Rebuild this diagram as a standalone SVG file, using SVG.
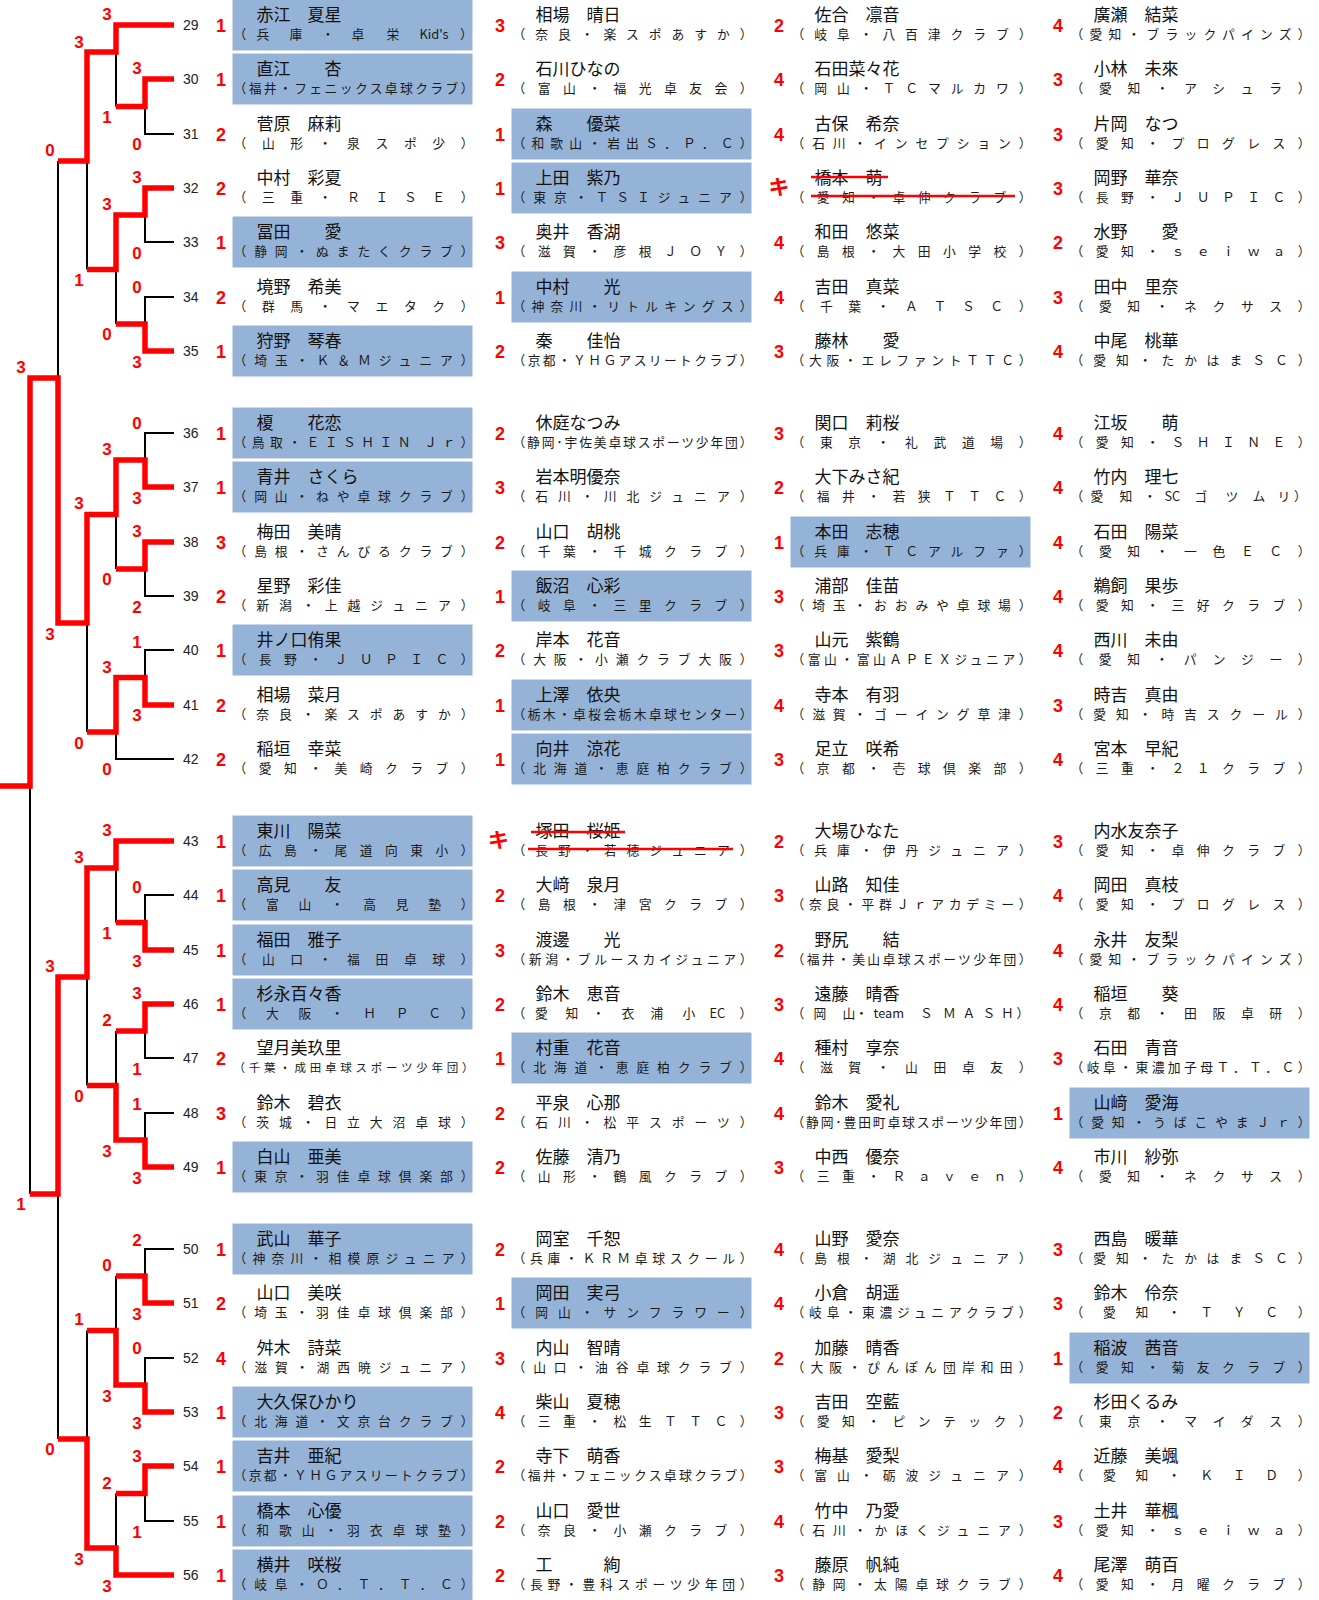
<svg xmlns="http://www.w3.org/2000/svg" width="1319" height="1600" viewBox="0 0 1319 1600">
<style>
.bx{fill:#95B3D7}
.nm{font-family:'Noto Sans CJK JP',sans-serif;font-size:17px;fill:#111}
.cl{font-family:'Noto Sans CJK JP',sans-serif;font-size:12.8px;fill:#1a1a1a}
.sc{font-family:'Liberation Sans',Arial,sans-serif;font-weight:bold;font-size:18px;fill:#f00;text-anchor:middle}
.ki{font-family:'Noto Sans CJK JP',sans-serif;font-weight:bold;font-size:21px;fill:#f00;text-anchor:middle}
.no{font-family:'Liberation Sans',Arial,sans-serif;font-size:14px;fill:#222}
.lb{font-family:'Liberation Sans',Arial,sans-serif;font-weight:bold;font-size:17px;fill:#f00;text-anchor:middle}
.rd{fill:none;stroke:#f00;stroke-width:5.5;stroke-linejoin:miter}
.bk{fill:none;stroke:#000;stroke-width:2}
.st{stroke:#f00;stroke-width:2.5}
</style>
<rect width="1319" height="1600" fill="#fff"/>
<g id="connectors">
<path class="bk" d="M174,134H145V106.5 M116,52V106.5 M174,242H145V215 M174,297H145V324 M116,269.5V324 M87,161V269.5 M58,161V378 M174,433H145V460 M174,596H145V569 M116,514.5V569 M174,650H145V677.5 M174,759H116V732 M87,623V732 M30,786V1194 M174,895H145V922.5 M116,868V922.5 M174,1058H145V1031 M116,1031V1085.5 M174,1113H145V1140 M87,977V1085.5 M58,1194V1439 M174,1249H145V1276 M116,1276V1330.5 M174,1358H145V1385 M174,1521H145V1493.5 M116,1493.5V1548 M87,1330.5V1439"/>
<path class="rd" d="M174,25H116V52H87V161H58"/>
<path class="rd" d="M174,79H145V106.5H116"/>
<path class="rd" d="M174,188H145V215H116V269.5H87"/>
<path class="rd" d="M174,351H145V324H116"/>
<path class="rd" d="M174,487H145V460H116V514.5H87V623H58V378H30V786H0"/>
<path class="rd" d="M174,542H145V569H116"/>
<path class="rd" d="M174,705H145V677.5H116V732H87"/>
<path class="rd" d="M174,841H116V868H87V977H58V1194H30"/>
<path class="rd" d="M174,950H145V922.5H116"/>
<path class="rd" d="M174,1004H145V1031H116"/>
<path class="rd" d="M174,1167H145V1140H116V1085.5H87"/>
<path class="rd" d="M174,1303H145V1276H116"/>
<path class="rd" d="M174,1412H145V1385H116V1330.5H87"/>
<path class="rd" d="M174,1466H145V1493.5H116"/>
<path class="rd" d="M174,1575H116V1548H87V1439H58"/>
</g>
<g id="match-scores">
<text class="lb" x="107" y="20">3</text><text class="lb" x="79" y="48">3</text><text class="lb" x="137" y="74">3</text><text class="lb" x="107" y="123">1</text><text class="lb" x="137" y="150">0</text><text class="lb" x="50" y="156">0</text><text class="lb" x="137" y="183">3</text><text class="lb" x="107" y="210">3</text><text class="lb" x="137" y="259">0</text><text class="lb" x="79" y="286">1</text><text class="lb" x="137" y="293">0</text><text class="lb" x="107" y="340">0</text><text class="lb" x="137" y="368">3</text><text class="lb" x="21" y="373">3</text>
<text class="lb" x="137" y="429">0</text><text class="lb" x="107" y="455">3</text><text class="lb" x="137" y="504">3</text><text class="lb" x="79" y="509">3</text><text class="lb" x="137" y="537">3</text><text class="lb" x="107" y="585">0</text><text class="lb" x="137" y="613">2</text><text class="lb" x="50" y="640">3</text><text class="lb" x="137" y="648">1</text><text class="lb" x="107" y="673">3</text><text class="lb" x="137" y="721">3</text><text class="lb" x="79" y="749">0</text><text class="lb" x="107" y="775">0</text>
<text class="lb" x="107" y="836">3</text><text class="lb" x="79" y="863">3</text><text class="lb" x="137" y="893">0</text><text class="lb" x="107" y="939">1</text><text class="lb" x="137" y="967">3</text><text class="lb" x="50" y="972">3</text><text class="lb" x="137" y="999">3</text><text class="lb" x="107" y="1026">2</text><text class="lb" x="137" y="1075">1</text><text class="lb" x="79" y="1102">0</text><text class="lb" x="137" y="1110">1</text><text class="lb" x="107" y="1157">3</text><text class="lb" x="137" y="1184">3</text>
<text class="lb" x="21" y="1210">1</text><text class="lb" x="137" y="1246">2</text><text class="lb" x="107" y="1271">0</text><text class="lb" x="137" y="1320">3</text><text class="lb" x="79" y="1325">1</text><text class="lb" x="137" y="1354">0</text><text class="lb" x="107" y="1402">3</text><text class="lb" x="137" y="1429">3</text><text class="lb" x="50" y="1455">0</text><text class="lb" x="137" y="1462">3</text><text class="lb" x="107" y="1489">2</text><text class="lb" x="137" y="1538">1</text><text class="lb" x="79" y="1565">3</text><text class="lb" x="107" y="1592">3</text>
</g>

<g id="e29" transform="translate(0,25)"><text class="no" x="183" y="5">29</text>
<g id="e29-1" transform="translate(232.5,0)"><rect class="bx" x="0" y="-25.5" width="240" height="51"/><text class="sc" x="-11.5" y="6.5">1</text><text class="nm" x="24" y="-4.5">赤江　夏星</text><text class="cl" y="14"><tspan x="1 24 57 89 119 154 187">（兵庫・卓栄Kid's</tspan><tspan x="227.5">）</tspan></text></g>
<g id="e29-2" transform="translate(511.5,0)"><text class="sc" x="-11.5" y="6.5">3</text><text class="nm" x="24" y="-4.5">相場　晴日</text><text class="cl" x="1" y="14" textLength="240">（奈良・楽スポあすか）</text></g>
<g id="e29-3" transform="translate(790.5,0)"><text class="sc" x="-11.5" y="6.5">2</text><text class="nm" x="24" y="-4.5">佐合　凛音</text><text class="cl" x="1" y="14" textLength="240">（岐阜・八百津クラブ）</text></g>
<g id="e29-4" transform="translate(1069.5,0)"><text class="sc" x="-11.5" y="6.5">4</text><text class="nm" x="24" y="-4.5">廣瀬　結菜</text><text class="cl" x="1" y="14" textLength="240">（愛知・ブラックパインズ）</text></g>
</g>

<g id="e30" transform="translate(0,79)"><text class="no" x="183" y="5">30</text>
<g id="e30-1" transform="translate(232.5,0)"><rect class="bx" x="0" y="-25.5" width="240" height="51"/><text class="sc" x="-11.5" y="6.5">1</text><text class="nm" x="24" y="-4.5">直江　　杏</text><text class="cl" x="1" y="14" textLength="240">（福井・フェニックス卓球クラブ）</text></g>
<g id="e30-2" transform="translate(511.5,0)"><text class="sc" x="-11.5" y="6.5">2</text><text class="nm" x="24" y="-4.5">石川ひなの</text><text class="cl" x="1" y="14" textLength="240">（富山・福光卓友会）</text></g>
<g id="e30-3" transform="translate(790.5,0)"><text class="sc" x="-11.5" y="6.5">4</text><text class="nm" x="24" y="-4.5">石田菜々花</text><text class="cl" x="1" y="14" textLength="240">（岡山・ＴＣマルカワ）</text></g>
<g id="e30-4" transform="translate(1069.5,0)"><text class="sc" x="-11.5" y="6.5">3</text><text class="nm" x="24" y="-4.5">小林　未來</text><text class="cl" x="1" y="14" textLength="240">（愛知・アシュラ）</text></g>
</g>

<g id="e31" transform="translate(0,134)"><text class="no" x="183" y="5">31</text>
<g id="e31-1" transform="translate(232.5,0)"><text class="sc" x="-11.5" y="6.5">2</text><text class="nm" x="24" y="-4.5">菅原　麻莉</text><text class="cl" x="1" y="14" textLength="240">（山形・泉スポ少）</text></g>
<g id="e31-2" transform="translate(511.5,0)"><rect class="bx" x="0" y="-25.5" width="240" height="51"/><text class="sc" x="-11.5" y="6.5">1</text><text class="nm" x="24" y="-4.5">森　　優菜</text><text class="cl" x="1" y="14" textLength="240">（和歌山・岩出Ｓ．Ｐ．Ｃ）</text></g>
<g id="e31-3" transform="translate(790.5,0)"><text class="sc" x="-11.5" y="6.5">4</text><text class="nm" x="24" y="-4.5">古保　希奈</text><text class="cl" x="1" y="14" textLength="240">（石川・インセプション）</text></g>
<g id="e31-4" transform="translate(1069.5,0)"><text class="sc" x="-11.5" y="6.5">3</text><text class="nm" x="24" y="-4.5">片岡　なつ</text><text class="cl" x="1" y="14" textLength="240">（愛知・プログレス）</text></g>
</g>

<g id="e32" transform="translate(0,188)"><text class="no" x="183" y="5">32</text>
<g id="e32-1" transform="translate(232.5,0)"><text class="sc" x="-11.5" y="6.5">2</text><text class="nm" x="24" y="-4.5">中村　彩夏</text><text class="cl" x="1" y="14" textLength="240">（三重・ＲＩＳＥ）</text></g>
<g id="e32-2" transform="translate(511.5,0)"><rect class="bx" x="0" y="-25.5" width="240" height="51"/><text class="sc" x="-11.5" y="6.5">1</text><text class="nm" x="24" y="-4.5">上田　紫乃</text><text class="cl" x="1" y="14" textLength="240">（東京・ＴＳＩジュニア）</text></g>
<g id="e32-3" transform="translate(790.5,0)"><text class="ki" x="-11.5" y="6">キ</text><text class="nm" x="24" y="-4.5">橋本　萌</text><text class="cl" x="1" y="14" textLength="240">（愛知・卓伸クラブ）</text><line class="st" x1="20.5" y1="-11" x2="97.5" y2="-11"/><line class="st" x1="20.5" y1="8" x2="224.5" y2="8"/></g>
<g id="e32-4" transform="translate(1069.5,0)"><text class="sc" x="-11.5" y="6.5">3</text><text class="nm" x="24" y="-4.5">岡野　華奈</text><text class="cl" x="1" y="14" textLength="240">（長野・ＪＵＰＩＣ）</text></g>
</g>

<g id="e33" transform="translate(0,242)"><text class="no" x="183" y="5">33</text>
<g id="e33-1" transform="translate(232.5,0)"><rect class="bx" x="0" y="-25.5" width="240" height="51"/><text class="sc" x="-11.5" y="6.5">1</text><text class="nm" x="24" y="-4.5">冨田　　愛</text><text class="cl" x="1" y="14" textLength="240">（静岡・ぬまたくクラブ）</text></g>
<g id="e33-2" transform="translate(511.5,0)"><text class="sc" x="-11.5" y="6.5">3</text><text class="nm" x="24" y="-4.5">奥井　香湖</text><text class="cl" x="1" y="14" textLength="240">（滋賀・彦根ＪＯＹ）</text></g>
<g id="e33-3" transform="translate(790.5,0)"><text class="sc" x="-11.5" y="6.5">4</text><text class="nm" x="24" y="-4.5">和田　悠菜</text><text class="cl" x="1" y="14" textLength="240">（島根・大田小学校）</text></g>
<g id="e33-4" transform="translate(1069.5,0)"><text class="sc" x="-11.5" y="6.5">2</text><text class="nm" x="24" y="-4.5">水野　　愛</text><text class="cl" x="1" y="14" textLength="240">（愛知・ｓｅｉｗａ）</text></g>
</g>

<g id="e34" transform="translate(0,297)"><text class="no" x="183" y="5">34</text>
<g id="e34-1" transform="translate(232.5,0)"><text class="sc" x="-11.5" y="6.5">2</text><text class="nm" x="24" y="-4.5">境野　希美</text><text class="cl" x="1" y="14" textLength="240">（群馬・マエタク）</text></g>
<g id="e34-2" transform="translate(511.5,0)"><rect class="bx" x="0" y="-25.5" width="240" height="51"/><text class="sc" x="-11.5" y="6.5">1</text><text class="nm" x="24" y="-4.5">中村　　光</text><text class="cl" x="1" y="14" textLength="240">（神奈川・リトルキングス）</text></g>
<g id="e34-3" transform="translate(790.5,0)"><text class="sc" x="-11.5" y="6.5">4</text><text class="nm" x="24" y="-4.5">吉田　真菜</text><text class="cl" x="1" y="14" textLength="240">（千葉・ＡＴＳＣ）</text></g>
<g id="e34-4" transform="translate(1069.5,0)"><text class="sc" x="-11.5" y="6.5">3</text><text class="nm" x="24" y="-4.5">田中　里奈</text><text class="cl" x="1" y="14" textLength="240">（愛知・ネクサス）</text></g>
</g>

<g id="e35" transform="translate(0,351)"><text class="no" x="183" y="5">35</text>
<g id="e35-1" transform="translate(232.5,0)"><rect class="bx" x="0" y="-25.5" width="240" height="51"/><text class="sc" x="-11.5" y="6.5">1</text><text class="nm" x="24" y="-4.5">狩野　琴春</text><text class="cl" x="1" y="14" textLength="240">（埼玉・Ｋ＆Ｍジュニア）</text></g>
<g id="e35-2" transform="translate(511.5,0)"><text class="sc" x="-11.5" y="6.5">2</text><text class="nm" x="24" y="-4.5">秦　　佳怡</text><text class="cl" x="1" y="14" textLength="240">（京都・ＹＨＧアスリートクラブ）</text></g>
<g id="e35-3" transform="translate(790.5,0)"><text class="sc" x="-11.5" y="6.5">3</text><text class="nm" x="24" y="-4.5">藤林　　愛</text><text class="cl" x="1" y="14" textLength="240">（大阪・エレファントＴＴＣ）</text></g>
<g id="e35-4" transform="translate(1069.5,0)"><text class="sc" x="-11.5" y="6.5">4</text><text class="nm" x="24" y="-4.5">中尾　桃華</text><text class="cl" x="1" y="14" textLength="240">（愛知・たかはまＳＣ）</text></g>
</g>

<g id="e36" transform="translate(0,433)"><text class="no" x="183" y="5">36</text>
<g id="e36-1" transform="translate(232.5,0)"><rect class="bx" x="0" y="-25.5" width="240" height="51"/><text class="sc" x="-11.5" y="6.5">1</text><text class="nm" x="24" y="-4.5">榎　　花恋</text><text class="cl" x="1" y="14" textLength="240">（鳥取・ＥＩＳＨＩＮ Ｊｒ）</text></g>
<g id="e36-2" transform="translate(511.5,0)"><text class="sc" x="-11.5" y="6.5">2</text><text class="nm" x="24" y="-4.5">休庭なつみ</text><text class="cl" x="1" y="14" textLength="240">（静岡･宇佐美卓球スポーツ少年団）</text></g>
<g id="e36-3" transform="translate(790.5,0)"><text class="sc" x="-11.5" y="6.5">3</text><text class="nm" x="24" y="-4.5">関口　莉桜</text><text class="cl" x="1" y="14" textLength="240">（東京・礼武道場）</text></g>
<g id="e36-4" transform="translate(1069.5,0)"><text class="sc" x="-11.5" y="6.5">4</text><text class="nm" x="24" y="-4.5">江坂　　萌</text><text class="cl" x="1" y="14" textLength="240">（愛知・ＳＨＩＮＥ）</text></g>
</g>

<g id="e37" transform="translate(0,487)"><text class="no" x="183" y="5">37</text>
<g id="e37-1" transform="translate(232.5,0)"><rect class="bx" x="0" y="-25.5" width="240" height="51"/><text class="sc" x="-11.5" y="6.5">1</text><text class="nm" x="24" y="-4.5">青井　さくら</text><text class="cl" x="1" y="14" textLength="240">（岡山・ねや卓球クラブ）</text></g>
<g id="e37-2" transform="translate(511.5,0)"><text class="sc" x="-11.5" y="6.5">3</text><text class="nm" x="24" y="-4.5">岩本明優奈</text><text class="cl" x="1" y="14" textLength="240">（石川・川北ジュニア）</text></g>
<g id="e37-3" transform="translate(790.5,0)"><text class="sc" x="-11.5" y="6.5">2</text><text class="nm" x="24" y="-4.5">大下みさ紀</text><text class="cl" x="1" y="14" textLength="240">（福井・若狭ＴＴＣ）</text></g>
<g id="e37-4" transform="translate(1069.5,0)"><text class="sc" x="-11.5" y="6.5">4</text><text class="nm" x="24" y="-4.5">竹内　理七</text><text class="cl" y="14" x="1 21 50 74 95 102.5 125 156 183 208 224.5">（愛知・SCゴツムリ）</text></g>
</g>

<g id="e38" transform="translate(0,542)"><text class="no" x="183" y="5">38</text>
<g id="e38-1" transform="translate(232.5,0)"><text class="sc" x="-11.5" y="6.5">3</text><text class="nm" x="24" y="-4.5">梅田　美晴</text><text class="cl" x="1" y="14" textLength="240">（島根・さんびるクラブ）</text></g>
<g id="e38-2" transform="translate(511.5,0)"><text class="sc" x="-11.5" y="6.5">2</text><text class="nm" x="24" y="-4.5">山口　胡桃</text><text class="cl" x="1" y="14" textLength="240">（千葉・千城クラブ）</text></g>
<g id="e38-3" transform="translate(790.5,0)"><rect class="bx" x="0" y="-25.5" width="240" height="51"/><text class="sc" x="-11.5" y="6.5">1</text><text class="nm" x="24" y="-4.5">本田　志穂</text><text class="cl" x="1" y="14" textLength="240">（兵庫・ＴＣアルファ）</text></g>
<g id="e38-4" transform="translate(1069.5,0)"><text class="sc" x="-11.5" y="6.5">4</text><text class="nm" x="24" y="-4.5">石田　陽菜</text><text class="cl" x="1" y="14" textLength="240">（愛知・一色ＥＣ）</text></g>
</g>

<g id="e39" transform="translate(0,596)"><text class="no" x="183" y="5">39</text>
<g id="e39-1" transform="translate(232.5,0)"><text class="sc" x="-11.5" y="6.5">2</text><text class="nm" x="24" y="-4.5">星野　彩佳</text><text class="cl" x="1" y="14" textLength="240">（新潟・上越ジュニア）</text></g>
<g id="e39-2" transform="translate(511.5,0)"><rect class="bx" x="0" y="-25.5" width="240" height="51"/><text class="sc" x="-11.5" y="6.5">1</text><text class="nm" x="24" y="-4.5">飯沼　心彩</text><text class="cl" x="1" y="14" textLength="240">（岐阜・三里クラブ）</text></g>
<g id="e39-3" transform="translate(790.5,0)"><text class="sc" x="-11.5" y="6.5">3</text><text class="nm" x="24" y="-4.5">浦部　佳苗</text><text class="cl" x="1" y="14" textLength="240">（埼玉・おおみや卓球場）</text></g>
<g id="e39-4" transform="translate(1069.5,0)"><text class="sc" x="-11.5" y="6.5">4</text><text class="nm" x="24" y="-4.5">鵜飼　果歩</text><text class="cl" x="1" y="14" textLength="240">（愛知・三好クラブ）</text></g>
</g>

<g id="e40" transform="translate(0,650)"><text class="no" x="183" y="5">40</text>
<g id="e40-1" transform="translate(232.5,0)"><rect class="bx" x="0" y="-25.5" width="240" height="51"/><text class="sc" x="-11.5" y="6.5">1</text><text class="nm" x="24" y="-4.5">井ノ口侑果</text><text class="cl" x="1" y="14" textLength="240">（長野・ＪＵＰＩＣ）</text></g>
<g id="e40-2" transform="translate(511.5,0)"><text class="sc" x="-11.5" y="6.5">2</text><text class="nm" x="24" y="-4.5">岸本　花音</text><text class="cl" x="1" y="14" textLength="240">（大阪・小瀬クラブ大阪）</text></g>
<g id="e40-3" transform="translate(790.5,0)"><text class="sc" x="-11.5" y="6.5">3</text><text class="nm" x="24" y="-4.5">山元　紫鶴</text><text class="cl" x="1" y="14" textLength="240">（富山・富山ＡＰＥＸジュニア）</text></g>
<g id="e40-4" transform="translate(1069.5,0)"><text class="sc" x="-11.5" y="6.5">4</text><text class="nm" x="24" y="-4.5">西川　未由</text><text class="cl" x="1" y="14" textLength="240">（愛知・パンジー）</text></g>
</g>

<g id="e41" transform="translate(0,705)"><text class="no" x="183" y="5">41</text>
<g id="e41-1" transform="translate(232.5,0)"><text class="sc" x="-11.5" y="6.5">2</text><text class="nm" x="24" y="-4.5">相場　菜月</text><text class="cl" x="1" y="14" textLength="240">（奈良・楽スポあすか）</text></g>
<g id="e41-2" transform="translate(511.5,0)"><rect class="bx" x="0" y="-25.5" width="240" height="51"/><text class="sc" x="-11.5" y="6.5">1</text><text class="nm" x="24" y="-4.5">上澤　依央</text><text class="cl" x="1" y="14" textLength="240">（栃木・卓桜会栃木卓球センター）</text></g>
<g id="e41-3" transform="translate(790.5,0)"><text class="sc" x="-11.5" y="6.5">4</text><text class="nm" x="24" y="-4.5">寺本　有羽</text><text class="cl" x="1" y="14" textLength="240">（滋賀・ゴーイング草津）</text></g>
<g id="e41-4" transform="translate(1069.5,0)"><text class="sc" x="-11.5" y="6.5">3</text><text class="nm" x="24" y="-4.5">時吉　真由</text><text class="cl" x="1" y="14" textLength="240">（愛知・時吉スクール）</text></g>
</g>

<g id="e42" transform="translate(0,759)"><text class="no" x="183" y="5">42</text>
<g id="e42-1" transform="translate(232.5,0)"><text class="sc" x="-11.5" y="6.5">2</text><text class="nm" x="24" y="-4.5">稲垣　幸菜</text><text class="cl" x="1" y="14" textLength="240">（愛知・美崎クラブ）</text></g>
<g id="e42-2" transform="translate(511.5,0)"><rect class="bx" x="0" y="-25.5" width="240" height="51"/><text class="sc" x="-11.5" y="6.5">1</text><text class="nm" x="24" y="-4.5">向井　涼花</text><text class="cl" x="1" y="14" textLength="240">（北海道・恵庭柏クラブ）</text></g>
<g id="e42-3" transform="translate(790.5,0)"><text class="sc" x="-11.5" y="6.5">3</text><text class="nm" x="24" y="-4.5">足立　咲希</text><text class="cl" x="1" y="14" textLength="240">（京都・壱球倶楽部）</text></g>
<g id="e42-4" transform="translate(1069.5,0)"><text class="sc" x="-11.5" y="6.5">4</text><text class="nm" x="24" y="-4.5">宮本　早紀</text><text class="cl" x="1" y="14" textLength="240">（三重・２１クラブ）</text></g>
</g>

<g id="e43" transform="translate(0,841)"><text class="no" x="183" y="5">43</text>
<g id="e43-1" transform="translate(232.5,0)"><rect class="bx" x="0" y="-25.5" width="240" height="51"/><text class="sc" x="-11.5" y="6.5">1</text><text class="nm" x="24" y="-4.5">東川　陽菜</text><text class="cl" x="1" y="14" textLength="240">（広島・尾道向東小）</text></g>
<g id="e43-2" transform="translate(511.5,0)"><text class="ki" x="-13" y="6">キ</text><text class="nm" x="24" y="-4.5">塚田　桜姫</text><text class="cl" x="1" y="14" textLength="240">（長野・若穂ジュニア）</text><line class="st" x1="19.5" y1="-9" x2="113.5" y2="-9"/><line class="st" x1="16.5" y1="8" x2="221.5" y2="8"/></g>
<g id="e43-3" transform="translate(790.5,0)"><text class="sc" x="-11.5" y="6.5">2</text><text class="nm" x="24" y="-4.5">大場ひなた</text><text class="cl" x="1" y="14" textLength="240">（兵庫・伊丹ジュニア）</text></g>
<g id="e43-4" transform="translate(1069.5,0)"><text class="sc" x="-11.5" y="6.5">3</text><text class="nm" x="24" y="-4.5">内水友奈子</text><text class="cl" x="1" y="14" textLength="240">（愛知・卓伸クラブ）</text></g>
</g>

<g id="e44" transform="translate(0,895)"><text class="no" x="183" y="5">44</text>
<g id="e44-1" transform="translate(232.5,0)"><rect class="bx" x="0" y="-25.5" width="240" height="51"/><text class="sc" x="-11.5" y="6.5">1</text><text class="nm" x="24" y="-4.5">高見　　友</text><text class="cl" x="1" y="14" textLength="240">（富山・高見塾）</text></g>
<g id="e44-2" transform="translate(511.5,0)"><text class="sc" x="-11.5" y="6.5">2</text><text class="nm" x="24" y="-4.5">大﨑　泉月</text><text class="cl" x="1" y="14" textLength="240">（島根・津宮クラブ）</text></g>
<g id="e44-3" transform="translate(790.5,0)"><text class="sc" x="-11.5" y="6.5">3</text><text class="nm" x="24" y="-4.5">山路　知佳</text><text class="cl" x="1" y="14" textLength="240">（奈良・平群Ｊｒアカデミー）</text></g>
<g id="e44-4" transform="translate(1069.5,0)"><text class="sc" x="-11.5" y="6.5">4</text><text class="nm" x="24" y="-4.5">岡田　真枝</text><text class="cl" x="1" y="14" textLength="240">（愛知・プログレス）</text></g>
</g>

<g id="e45" transform="translate(0,950)"><text class="no" x="183" y="5">45</text>
<g id="e45-1" transform="translate(232.5,0)"><rect class="bx" x="0" y="-25.5" width="240" height="51"/><text class="sc" x="-11.5" y="6.5">1</text><text class="nm" x="24" y="-4.5">福田　雅子</text><text class="cl" x="1" y="14" textLength="240">（山口・福田卓球）</text></g>
<g id="e45-2" transform="translate(511.5,0)"><text class="sc" x="-11.5" y="6.5">3</text><text class="nm" x="24" y="-4.5">渡邊　　光</text><text class="cl" x="1" y="14" textLength="240">（新潟・ブルースカイジュニア）</text></g>
<g id="e45-3" transform="translate(790.5,0)"><text class="sc" x="-11.5" y="6.5">2</text><text class="nm" x="24" y="-4.5">野尻　　結</text><text class="cl" x="1" y="14" textLength="240">（福井・美山卓球スポーツ少年団）</text></g>
<g id="e45-4" transform="translate(1069.5,0)"><text class="sc" x="-11.5" y="6.5">4</text><text class="nm" x="24" y="-4.5">永井　友梨</text><text class="cl" x="1" y="14" textLength="240">（愛知・ブラックパインズ）</text></g>
</g>

<g id="e46" transform="translate(0,1004)"><text class="no" x="183" y="5">46</text>
<g id="e46-1" transform="translate(232.5,0)"><rect class="bx" x="0" y="-25.5" width="240" height="51"/><text class="sc" x="-11.5" y="6.5">1</text><text class="nm" x="24" y="-4.5">杉永百々香</text><text class="cl" x="1" y="14" textLength="240">（大阪・ＨＰＣ）</text></g>
<g id="e46-2" transform="translate(511.5,0)"><text class="sc" x="-11.5" y="6.5">2</text><text class="nm" x="24" y="-4.5">鈴木　恵音</text><text class="cl" y="14" x="1 23.5 54 80.5 110 139 171 198 205.5 228">（愛知・衣浦小EC）</text></g>
<g id="e46-3" transform="translate(790.5,0)"><text class="sc" x="-11.5" y="6.5">3</text><text class="nm" x="24" y="-4.5">遠藤　晴香</text><text class="cl" y="14"><tspan x="1 23 52 64.5 83">（岡山・team</tspan><tspan x="129.5 152.5 172 192 210.5 226">ＳＭＡＳＨ）</tspan></text></g>
<g id="e46-4" transform="translate(1069.5,0)"><text class="sc" x="-11.5" y="6.5">4</text><text class="nm" x="24" y="-4.5">稲垣　　葵</text><text class="cl" x="1" y="14" textLength="240">（京都・田阪卓研）</text></g>
</g>

<g id="e47" transform="translate(0,1058)"><text class="no" x="183" y="5">47</text>
<g id="e47-1" transform="translate(232.5,0)"><text class="sc" x="-11.5" y="6.5">2</text><text class="nm" x="24" y="-4.5">望月美玖里</text><text class="cl" x="1" y="14" textLength="240" style="font-size:11.5px">（千葉・成田卓球スポーツ少年団）</text></g>
<g id="e47-2" transform="translate(511.5,0)"><rect class="bx" x="0" y="-25.5" width="240" height="51"/><text class="sc" x="-11.5" y="6.5">1</text><text class="nm" x="24" y="-4.5">村重　花音</text><text class="cl" x="1" y="14" textLength="240">（北海道・恵庭柏クラブ）</text></g>
<g id="e47-3" transform="translate(790.5,0)"><text class="sc" x="-11.5" y="6.5">4</text><text class="nm" x="24" y="-4.5">種村　享奈</text><text class="cl" x="1" y="14" textLength="240">（滋賀・山田卓友）</text></g>
<g id="e47-4" transform="translate(1069.5,0)"><text class="sc" x="-11.5" y="6.5">3</text><text class="nm" x="24" y="-4.5">石田　青音</text><text class="cl" x="1" y="14" textLength="240">（岐阜・東濃加子母Ｔ．Ｔ．Ｃ）</text></g>
</g>

<g id="e48" transform="translate(0,1113)"><text class="no" x="183" y="5">48</text>
<g id="e48-1" transform="translate(232.5,0)"><text class="sc" x="-11.5" y="6.5">3</text><text class="nm" x="24" y="-4.5">鈴木　碧衣</text><text class="cl" x="1" y="14" textLength="240">（茨城・日立大沼卓球）</text></g>
<g id="e48-2" transform="translate(511.5,0)"><text class="sc" x="-11.5" y="6.5">2</text><text class="nm" x="24" y="-4.5">平泉　心那</text><text class="cl" x="1" y="14" textLength="240">（石川・松平スポーツ）</text></g>
<g id="e48-3" transform="translate(790.5,0)"><text class="sc" x="-11.5" y="6.5">4</text><text class="nm" x="24" y="-4.5">鈴木　愛礼</text><text class="cl" x="1" y="14" textLength="240">（静岡･豊田町卓球スポーツ少年団）</text></g>
<g id="e48-4" transform="translate(1069.5,0)"><rect class="bx" x="0" y="-25.5" width="240" height="51"/><text class="sc" x="-11.5" y="6.5">1</text><text class="nm" x="24" y="-4.5">山﨑　愛海</text><text class="cl" x="1" y="14" textLength="240">（愛知・うばこやまＪｒ）</text></g>
</g>

<g id="e49" transform="translate(0,1167)"><text class="no" x="183" y="5">49</text>
<g id="e49-1" transform="translate(232.5,0)"><rect class="bx" x="0" y="-25.5" width="240" height="51"/><text class="sc" x="-11.5" y="6.5">1</text><text class="nm" x="24" y="-4.5">白山　亜美</text><text class="cl" x="1" y="14" textLength="240">（東京・羽佳卓球倶楽部）</text></g>
<g id="e49-2" transform="translate(511.5,0)"><text class="sc" x="-11.5" y="6.5">2</text><text class="nm" x="24" y="-4.5">佐藤　清乃</text><text class="cl" x="1" y="14" textLength="240">（山形・鶴風クラブ）</text></g>
<g id="e49-3" transform="translate(790.5,0)"><text class="sc" x="-11.5" y="6.5">3</text><text class="nm" x="24" y="-4.5">中西　優奈</text><text class="cl" x="1" y="14" textLength="240">（三重・Ｒａｖｅｎ）</text></g>
<g id="e49-4" transform="translate(1069.5,0)"><text class="sc" x="-11.5" y="6.5">4</text><text class="nm" x="24" y="-4.5">市川　紗弥</text><text class="cl" x="1" y="14" textLength="240">（愛知・ネクサス）</text></g>
</g>

<g id="e50" transform="translate(0,1249)"><text class="no" x="183" y="5">50</text>
<g id="e50-1" transform="translate(232.5,0)"><rect class="bx" x="0" y="-25.5" width="240" height="51"/><text class="sc" x="-11.5" y="6.5">1</text><text class="nm" x="24" y="-4.5">武山　華子</text><text class="cl" x="1" y="14" textLength="240">（神奈川・相模原ジュニア）</text></g>
<g id="e50-2" transform="translate(511.5,0)"><text class="sc" x="-11.5" y="6.5">2</text><text class="nm" x="24" y="-4.5">岡室　千恕</text><text class="cl" x="1" y="14" textLength="240">（兵庫・ＫＲＭ卓球スクール）</text></g>
<g id="e50-3" transform="translate(790.5,0)"><text class="sc" x="-11.5" y="6.5">4</text><text class="nm" x="24" y="-4.5">山野　愛奈</text><text class="cl" x="1" y="14" textLength="240">（島根・湖北ジュニア）</text></g>
<g id="e50-4" transform="translate(1069.5,0)"><text class="sc" x="-11.5" y="6.5">3</text><text class="nm" x="24" y="-4.5">西島　暖華</text><text class="cl" x="1" y="14" textLength="240">（愛知・たかはまＳＣ）</text></g>
</g>

<g id="e51" transform="translate(0,1303)"><text class="no" x="183" y="5">51</text>
<g id="e51-1" transform="translate(232.5,0)"><text class="sc" x="-11.5" y="6.5">2</text><text class="nm" x="24" y="-4.5">山口　美咲</text><text class="cl" x="1" y="14" textLength="240">（埼玉・羽佳卓球倶楽部）</text></g>
<g id="e51-2" transform="translate(511.5,0)"><rect class="bx" x="0" y="-25.5" width="240" height="51"/><text class="sc" x="-11.5" y="6.5">1</text><text class="nm" x="24" y="-4.5">岡田　実弓</text><text class="cl" x="1" y="14" textLength="240">（岡山・サンフラワー）</text></g>
<g id="e51-3" transform="translate(790.5,0)"><text class="sc" x="-11.5" y="6.5">4</text><text class="nm" x="24" y="-4.5">小倉　胡遥</text><text class="cl" x="1" y="14" textLength="240">（岐阜・東濃ジュニアクラブ）</text></g>
<g id="e51-4" transform="translate(1069.5,0)"><text class="sc" x="-11.5" y="6.5">3</text><text class="nm" x="24" y="-4.5">鈴木　伶奈</text><text class="cl" x="1" y="14" textLength="240">（愛知・ＴＹＣ）</text></g>
</g>

<g id="e52" transform="translate(0,1358)"><text class="no" x="183" y="5">52</text>
<g id="e52-1" transform="translate(232.5,0)"><text class="sc" x="-11.5" y="6.5">4</text><text class="nm" x="24" y="-4.5">舛木　詩菜</text><text class="cl" x="1" y="14" textLength="240">（滋賀・湖西暁ジュニア）</text></g>
<g id="e52-2" transform="translate(511.5,0)"><text class="sc" x="-11.5" y="6.5">3</text><text class="nm" x="24" y="-4.5">内山　智晴</text><text class="cl" x="1" y="14" textLength="240">（山口・油谷卓球クラブ）</text></g>
<g id="e52-3" transform="translate(790.5,0)"><text class="sc" x="-11.5" y="6.5">2</text><text class="nm" x="24" y="-4.5">加藤　晴香</text><text class="cl" x="1" y="14" textLength="240">（大阪・ぴんぽん団岸和田）</text></g>
<g id="e52-4" transform="translate(1069.5,0)"><rect class="bx" x="0" y="-25.5" width="240" height="51"/><text class="sc" x="-11.5" y="6.5">1</text><text class="nm" x="24" y="-4.5">稲波　茜音</text><text class="cl" x="1" y="14" textLength="240">（愛知・菊友クラブ）</text></g>
</g>

<g id="e53" transform="translate(0,1412)"><text class="no" x="183" y="5">53</text>
<g id="e53-1" transform="translate(232.5,0)"><rect class="bx" x="0" y="-25.5" width="240" height="51"/><text class="sc" x="-11.5" y="6.5">1</text><text class="nm" x="24" y="-4.5">大久保ひかり</text><text class="cl" x="1" y="14" textLength="240">（北海道・文京台クラブ）</text></g>
<g id="e53-2" transform="translate(511.5,0)"><text class="sc" x="-11.5" y="6.5">4</text><text class="nm" x="24" y="-4.5">柴山　夏穂</text><text class="cl" x="1" y="14" textLength="240">（三重・松生ＴＴＣ）</text></g>
<g id="e53-3" transform="translate(790.5,0)"><text class="sc" x="-11.5" y="6.5">3</text><text class="nm" x="24" y="-4.5">吉田　空藍</text><text class="cl" x="1" y="14" textLength="240">（愛知・ピンテック）</text></g>
<g id="e53-4" transform="translate(1069.5,0)"><text class="sc" x="-11.5" y="6.5">2</text><text class="nm" x="24" y="-4.5">杉田くるみ</text><text class="cl" x="1" y="14" textLength="240">（東京・マイダス）</text></g>
</g>

<g id="e54" transform="translate(0,1466)"><text class="no" x="183" y="5">54</text>
<g id="e54-1" transform="translate(232.5,0)"><rect class="bx" x="0" y="-25.5" width="240" height="51"/><text class="sc" x="-11.5" y="6.5">1</text><text class="nm" x="24" y="-4.5">吉井　亜紀</text><text class="cl" x="1" y="14" textLength="240">（京都・ＹＨＧアスリートクラブ）</text></g>
<g id="e54-2" transform="translate(511.5,0)"><text class="sc" x="-11.5" y="6.5">2</text><text class="nm" x="24" y="-4.5">寺下　萌香</text><text class="cl" x="1" y="14" textLength="240">（福井・フェニックス卓球クラブ）</text></g>
<g id="e54-3" transform="translate(790.5,0)"><text class="sc" x="-11.5" y="6.5">3</text><text class="nm" x="24" y="-4.5">梅基　愛梨</text><text class="cl" x="1" y="14" textLength="240">（富山・砺波ジュニア）</text></g>
<g id="e54-4" transform="translate(1069.5,0)"><text class="sc" x="-11.5" y="6.5">4</text><text class="nm" x="24" y="-4.5">近藤　美颯</text><text class="cl" x="1" y="14" textLength="240">（愛知・ＫＩＤ）</text></g>
</g>

<g id="e55" transform="translate(0,1521)"><text class="no" x="183" y="5">55</text>
<g id="e55-1" transform="translate(232.5,0)"><rect class="bx" x="0" y="-25.5" width="240" height="51"/><text class="sc" x="-11.5" y="6.5">1</text><text class="nm" x="24" y="-4.5">橋本　心優</text><text class="cl" x="1" y="14" textLength="240">（和歌山・羽衣卓球塾）</text></g>
<g id="e55-2" transform="translate(511.5,0)"><text class="sc" x="-11.5" y="6.5">2</text><text class="nm" x="24" y="-4.5">山口　愛世</text><text class="cl" x="1" y="14" textLength="240">（奈良・小瀬クラブ）</text></g>
<g id="e55-3" transform="translate(790.5,0)"><text class="sc" x="-11.5" y="6.5">4</text><text class="nm" x="24" y="-4.5">竹中　乃愛</text><text class="cl" x="1" y="14" textLength="240">（石川・かほくジュニア）</text></g>
<g id="e55-4" transform="translate(1069.5,0)"><text class="sc" x="-11.5" y="6.5">3</text><text class="nm" x="24" y="-4.5">土井　華楓</text><text class="cl" x="1" y="14" textLength="240">（愛知・ｓｅｉｗａ）</text></g>
</g>

<g id="e56" transform="translate(0,1575)"><text class="no" x="183" y="5">56</text>
<g id="e56-1" transform="translate(232.5,0)"><rect class="bx" x="0" y="-25.5" width="240" height="51"/><text class="sc" x="-11.5" y="6.5">1</text><text class="nm" x="24" y="-4.5">横井　咲桜</text><text class="cl" x="1" y="14" textLength="240">（岐阜・Ｏ．Ｔ．Ｔ．Ｃ）</text></g>
<g id="e56-2" transform="translate(511.5,0)"><text class="sc" x="-11.5" y="6.5">2</text><text class="nm" x="24" y="-4.5">工　　　絢</text><text class="cl" x="1" y="14" textLength="240">（長野・豊科スポーツ少年団）</text></g>
<g id="e56-3" transform="translate(790.5,0)"><text class="sc" x="-11.5" y="6.5">3</text><text class="nm" x="24" y="-4.5">藤原　帆純</text><text class="cl" x="1" y="14" textLength="240">（静岡・太陽卓球クラブ）</text></g>
<g id="e56-4" transform="translate(1069.5,0)"><text class="sc" x="-11.5" y="6.5">4</text><text class="nm" x="24" y="-4.5">尾澤　萌百</text><text class="cl" x="1" y="14" textLength="240">（愛知・月曜クラブ）</text></g>
</g>
</svg>
